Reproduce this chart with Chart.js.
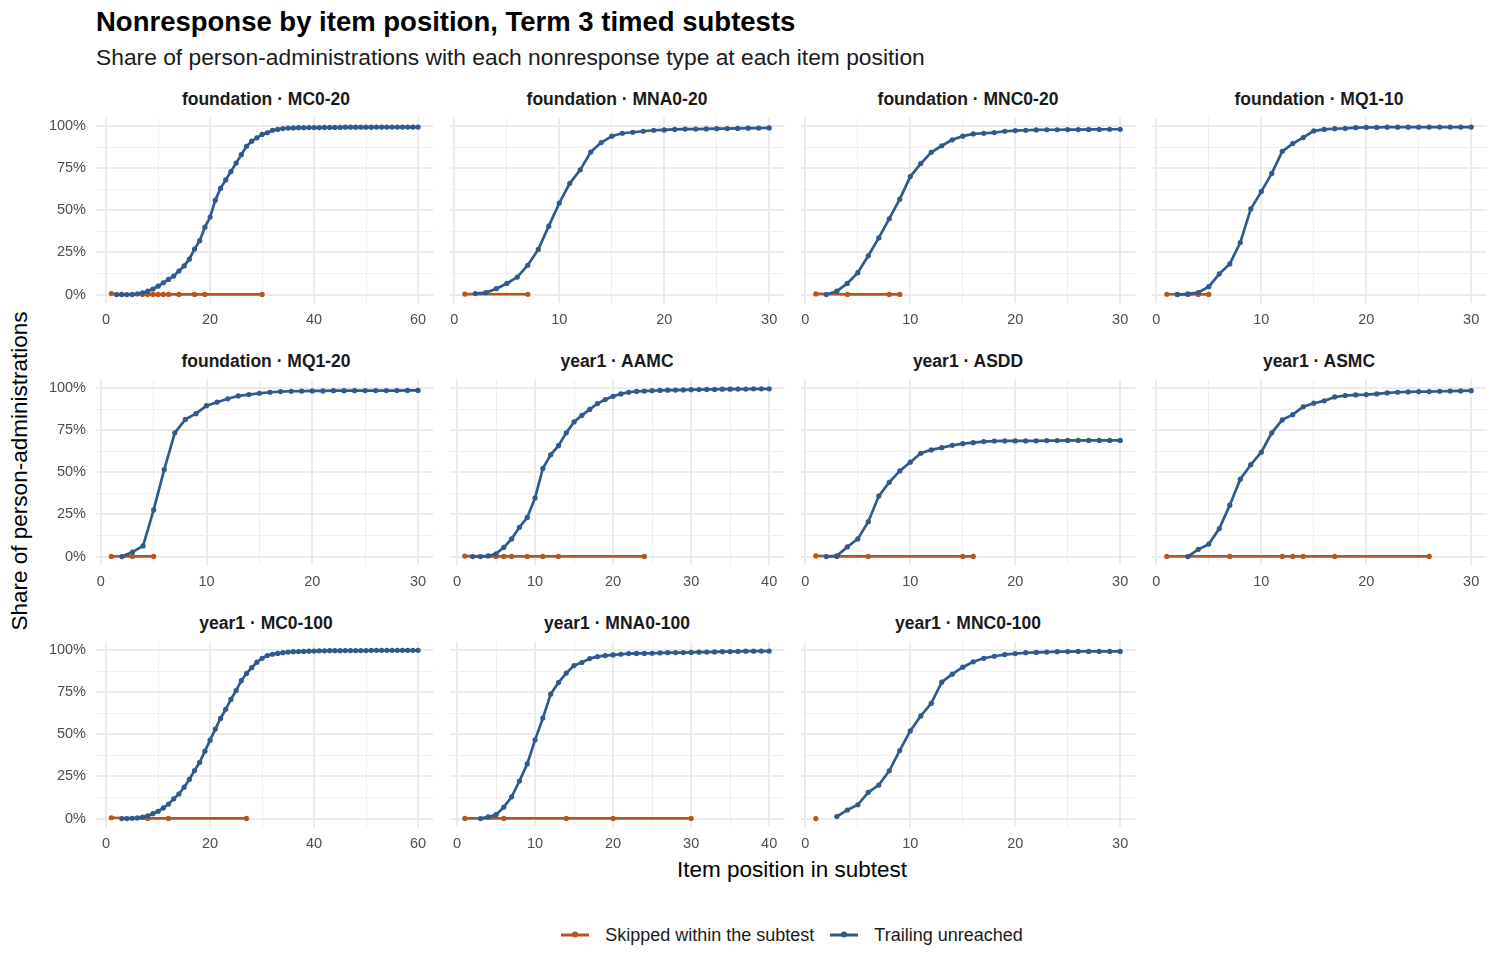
<!DOCTYPE html>
<html>
<head>
<meta charset="utf-8">
<script src="https://cdn.jsdelivr.net/npm/chart.js@4.4.1/dist/chart.umd.min.js"></script>
<style>
  body { margin: 0; background: #fff; font-family: "Liberation Sans", Arial, Helvetica, sans-serif; }
  #page { position: relative; width: 1500px; height: 975px; overflow: hidden; }
  .abs { position: absolute; }
  #title { left: 96px; top: 22px; transform: translateY(-50%); font-size: 27.5px; font-weight: bold; color: #000; white-space: nowrap; }
  #subtitle { left: 96px; top: 57px; transform: translateY(-50%); font-size: 22.8px; color: #1a1a1a; white-space: nowrap; }
  .strip { width: 340px; text-align: center; transform: translateY(-50%); font-size: 17.5px; font-weight: bold; color: #1a1a1a; white-space: nowrap; }
  #ytitle { left: 20px; top: 471px; transform: translate(-50%, -50%) rotate(-90deg); font-size: 22.5px; color: #000; white-space: nowrap; }
  #xtitle { left: 792px; top: 870px; transform: translate(-50%, -50%); font-size: 22.5px; color: #000; white-space: nowrap; }
  #legend { left: 0; width: 1584px; top: 935px; transform: translateY(-50%); display: flex; justify-content: center; align-items: center; font-size: 18px; color: #1a1a1a; }
  .item { display: flex; align-items: center; margin: 0 8px; }
  .key { position: relative; width: 28px; height: 2.5px; margin-right: 16px; }
  .key span { position: absolute; left: 11px; top: -2px; width: 6px; height: 6px; border-radius: 50%; }
</style>
</head>
<body>
<div id="page">
  <div id="title" class="abs">Nonresponse by item position, Term 3 timed subtests</div>
  <div id="subtitle" class="abs">Share of person-administrations with each nonresponse type at each item position</div>
  <div id="ytitle" class="abs">Share of person-administrations</div>
  <div id="xtitle" class="abs">Item position in subtest</div>
  <div id="legend" class="abs"></div>
</div>
<script>
// series names and colours
const seriesNames = ['Skipped within the subtest', 'Trailing unreached'];
const skipColor = '#B5561F';
const trailColor = '#2E5A8C';

// y axis breaks (percent)
const yBreaks = [0, 25, 50, 75, 100];
const yMinor = [12.5, 37.5, 62.5, 87.5];

// foundation · MC0-20
const mc020TrailStart = 2;
const mc020Trail = [0,0,0,0,0.4,1,2,3.3,5,7, 9,11,14,17,21,27,32,40,46,56, 63,68,73,78,83,88,91,93,95,96,
  97.5,98,98.5,98.8,98.9,99,99,99.1,99.1,99.1, 99.2,99.2,99.2,99.2,99.3,99.3,99.3,99.3,99.3,99.3,
  99.4,99.4,99.4,99.4,99.4,99.4,99.4,99.4,99.4];
const mc020SkipPos = [1,3,5,7,8,9,10,11,12,14,17,19,30];
const mc020Skip = [0.6,0.1,0.1,0.1,0.1,0.1,0.1,0.1,0.1,0.1,0.1,0.1,0.1];

// foundation · MNA0-20
const mna020TrailStart = 2;
const mna020Trail = [0.6,1.2,3.5,6.6,10.4,17.4,26.8,40.6,54.3,66, 74,84.6,90.2,94,95.7,96.3,96.9,97.5,97.7,98,
  98.2,98.2,98.3,98.4,98.5,98.6,98.7,98.8,98.9];
const mna020SkipPos = [1,7];
const mna020Skip = [0.3,0.2];

// foundation · MNC0-20
const mnc020TrailStart = 2;
const mnc020Trail = [0,2,6.6,13,23,33.6,45,56.6,70,77.7, 84.4,88.3,91.8,94,95.3,95.7,96.1,96.9,97.3,97.5,
  97.7,97.8,97.8,97.9,97.9,98,98,98.1,98.1];
const mnc020SkipPos = [1,4,8,9];
const mnc020Skip = [0.4,0.1,0.1,0.1];

// foundation · MQ1-10
const mq110TrailStart = 2;
const mq110Trail = [0,0.4,1.2,4.7,12.3,18.2,30.9,50.8,61.1,71.9, 85,89.6,93.2,97.1,98,98.4,98.6,99,99.2,99.2,
  99.3,99.3,99.3,99.3,99.4,99.4,99.4,99.4,99.4];
const mq110SkipPos = [1,2,3,4,5];
const mq110Skip = [0.2,0.1,0.1,0.1,0.1];

// foundation · MQ1-20
const mq120TrailStart = 2;
const mq120Trail = [0,2.7,6.3,27.7,51.6,73.4,81.4,84.8,89.5,91.6, 93.6,95.3,96.1,96.9,97.5,97.9,98.1,98.2,98.3,98.3,
  98.4,98.4,98.4,98.5,98.5,98.5,98.5,98.6,98.6];
const mq120SkipPos = [1,3,5];
const mq120Skip = [0.1,0.1,0.1];

// year1 · AAMC
const aamcTrailStart = 2;
const aamcTrail = [0,0,0.4,1.6,5.5,10.5,17.4,23.2,34.8,52.3, 60.4,65.8,73.4,79.9,83.8,87.3,90.8,93.2,95.1,96.5,
  97.5,98,98.2,98.4,98.6,98.7,98.8,98.9,99,99.1, 99.2,99.2,99.3,99.3,99.4,99.4,99.5,99.5,99.5];
const aamcSkipPos = [1,5,6,7,9,11,13,24];
const aamcSkip = [0.3,0.1,0.1,0.1,0.1,0.1,0.1,0.1];

// year1 · ASDD
const asddTrailStart = 2;
const asddTrail = [0,0.4,5.7,10.5,20.7,35.9,44.1,50.8,56,61.3, 63.3,64.6,66,67,67.6,68.2,68.5,68.6,68.6,68.6,
  68.7,68.8,68.8,68.9,68.9,68.9,68.9,68.9,68.9];
const asddSkipPos = [1,3,6,15,16];
const asddSkip = [0.4,0.1,0.1,0.1,0.1];

// year1 · ASMC
const asmcTrailStart = 3;
const asmcTrail = [0,4.3,7.4,16.6,30.5,45.9,54.5,61.9,73.4,81.1, 84.2,88.9,91,92.4,94.7,95.5,95.9,96.1,96.5,97.1,
  97.5,97.7,97.9,97.9,98.1,98.2,98.3,98.4];
const asmcSkipPos = [1,7,12,13,14,17,26];
const asmcSkip = [0.1,0.1,0.1,0.1,0.1,0.1,0.1];

// year1 · MC0-100
const mc0100TrailStart = 3;
const mc0100Trail = [0,0,0.2,0.4,0.8,1.6,2.9,4.3,6.3,8.6, 11.7,14.6,18.6,23.2,28.5,33.4,40,46.5,53.1,59.4,
  64.8,70.7,76,81.8,86.1,89.5,92.8,95.1,96.7,97.5, 98,98.4,98.8,99,99.1,99.2,99.3,99.4,99.5,99.5,
  99.6,99.6,99.6,99.7,99.7,99.7,99.7,99.7,99.8,99.8, 99.8,99.8,99.8,99.8,99.8,99.8,99.8,99.8];
const mc0100SkipPos = [1,8,12,27];
const mc0100Skip = [0.5,0.1,0.1,0.1];

// year1 · MNA0-100
const mna0100TrailStart = 3;
const mna0100Trail = [0,1,2.3,6.8,12.9,22.3,32.4,46.7,59.6,73.8, 80.7,86.3,90.8,92.6,94.9,96.1,96.7,97.1,97.5,97.9,
  98,98,98.1,98.3,98.4,98.5,98.5,98.6,98.7,98.8, 98.9,99,99.1,99.2,99.3,99.3,99.4,99.4];
const mna0100SkipPos = [1,6,14,20,30];
const mna0100Skip = [0.1,0.1,0.1,0.1,0.1];

// year1 · MNC0-100
const mnc0100TrailStart = 3;
const mnc0100Trail = [1.2,5.1,8.2,15.6,19.9,28.3,40.4,52,60.9,68.4, 80.9,85.7,89.8,93,95.1,96.3,97.3,97.9,98.4,98.6,
  98.8,99,99.1,99.2,99.2,99.2,99.2,99.2];
const mnc0100SkipPos = [1];
const mnc0100Skip = [0];

const panelTitles = ['foundation · MC0-20', 'foundation · MNA0-20', 'foundation · MNC0-20', 'foundation · MQ1-10',
  'foundation · MQ1-20', 'year1 · AAMC', 'year1 · ASDD', 'year1 · ASMC',
  'year1 · MC0-100', 'year1 · MNA0-100', 'year1 · MNC0-100'];
const panelXMax = [60, 30, 30, 30, 30, 40, 30, 30, 60, 40, 30];

const panels = [
  [mc020TrailStart, mc020Trail, mc020SkipPos, mc020Skip],
  [mna020TrailStart, mna020Trail, mna020SkipPos, mna020Skip],
  [mnc020TrailStart, mnc020Trail, mnc020SkipPos, mnc020Skip],
  [mq110TrailStart, mq110Trail, mq110SkipPos, mq110Skip],
  [mq120TrailStart, mq120Trail, mq120SkipPos, mq120Skip],
  [aamcTrailStart, aamcTrail, aamcSkipPos, aamcSkip],
  [asddTrailStart, asddTrail, asddSkipPos, asddSkip],
  [asmcTrailStart, asmcTrail, asmcSkipPos, asmcSkip],
  [mc0100TrailStart, mc0100Trail, mc0100SkipPos, mc0100Skip],
  [mna0100TrailStart, mna0100Trail, mna0100SkipPos, mna0100Skip],
  [mnc0100TrailStart, mnc0100Trail, mnc0100SkipPos, mnc0100Skip]
];

// layout
const colLeft = [96, 447, 798, 1149];
const rowTop = [115, 377, 639];
const panelW = 340, panelH = 188;
const yAxisW = 50, xAxisH = 32;
const majorGrid = '#EBEBEB', minorGrid = '#EEEEEE';
const tickFont = { family: '"Liberation Sans", Arial, sans-serif', size: 14.5 };
const tickColor = '#4D4D4D';

const page = document.getElementById('page');

panels.forEach((p, i) => {
  const [start, trail, skipPos, skip] = p;
  const xmax = panelXMax[i];
  const col = i % 4, row = Math.floor(i / 4);
  const left = colLeft[col], top = rowTop[row];
  const yw = col === 0 ? yAxisW : 0;
  const majorStep = xmax === 60 ? 20 : 10;
  const minorStep = majorStep / 2;
  const pad = 0.05 * (xmax - 1);

  const strip = document.createElement('div');
  strip.className = 'abs strip';
  strip.style.left = left + 'px';
  strip.style.top = (top - 16) + 'px';
  strip.textContent = panelTitles[i];
  page.appendChild(strip);

  const canvas = document.createElement('canvas');
  canvas.className = 'abs';
  canvas.width = panelW + yw;
  canvas.height = panelH + xAxisH;
  canvas.style.left = (left - yw) + 'px';
  canvas.style.top = top + 'px';
  page.appendChild(canvas);

  const trailPts = trail.map((v, k) => ({ x: start + k, y: v }));
  const skipPts = skipPos.map((x, k) => ({ x: x, y: skip[k] }));

  new Chart(canvas, {
    type: 'line',
    data: {
      datasets: [{
        label: seriesNames[1],
        data: trailPts,
        borderColor: trailColor,
        backgroundColor: trailColor,
        borderWidth: 2.7,
        pointRadius: 2.6,
        pointBorderWidth: 0,
        pointHoverRadius: 2.6,
        order: 0
      }, {
        label: seriesNames[0],
        data: skipPts,
        borderColor: skipColor,
        backgroundColor: skipColor,
        borderWidth: 2.7,
        pointRadius: 2.6,
        pointBorderWidth: 0,
        pointHoverRadius: 2.6,
        order: 1
      }]
    },
    options: {
      responsive: false,
      animation: false,
      devicePixelRatio: 1,
      layout: { padding: 0 },
      plugins: { legend: { display: false }, tooltip: { enabled: false } },
      scales: {
        x: {
          type: 'linear',
          min: 1 - pad,
          max: xmax + pad,
          afterBuildTicks: s => {
            const t = [];
            for (let v = 0; v <= xmax; v += minorStep) t.push({ value: v });
            s.ticks = t;
          },
          afterFit: s => { s.height = xAxisH; s.paddingLeft = 0; s.paddingRight = 0; },
          border: { display: false },
          grid: {
            drawTicks: false,
            color: c => (c.tick && c.tick.value % majorStep === 0) ? majorGrid : minorGrid,
            lineWidth: c => (c.tick && c.tick.value % majorStep === 0) ? 2 : 1
          },
          ticks: {
            autoSkip: false,
            maxRotation: 0,
            padding: 8,
            font: tickFont,
            color: tickColor,
            callback: v => v % majorStep === 0 ? v : ''
          }
        },
        y: {
          min: -5,
          max: 105,
          afterBuildTicks: s => {
            s.ticks = yBreaks.concat(yMinor).sort((a, b) => a - b).map(v => ({ value: v }));
          },
          afterFit: s => { s.width = yw; s.paddingTop = 0; s.paddingBottom = 0; },
          border: { display: false },
          grid: {
            drawTicks: false,
            color: c => (c.tick && yBreaks.includes(c.tick.value)) ? majorGrid : minorGrid,
            lineWidth: c => (c.tick && yBreaks.includes(c.tick.value)) ? 2 : 1
          },
          ticks: {
            display: col === 0,
            autoSkip: false,
            padding: 10,
            font: tickFont,
            color: tickColor,
            callback: v => yBreaks.includes(v) ? v + '%' : ''
          }
        }
      }
    }
  });
});

// legend
const legend = document.getElementById('legend');
[[seriesNames[0], skipColor], [seriesNames[1], trailColor]].forEach(([name, color]) => {
  legend.insertAdjacentHTML('beforeend',
    `<div class="item"><div class="key" style="background:${color}"><span style="background:${color}"></span></div><div>${name}</div></div>`);
});
</script>
</body>
</html>
